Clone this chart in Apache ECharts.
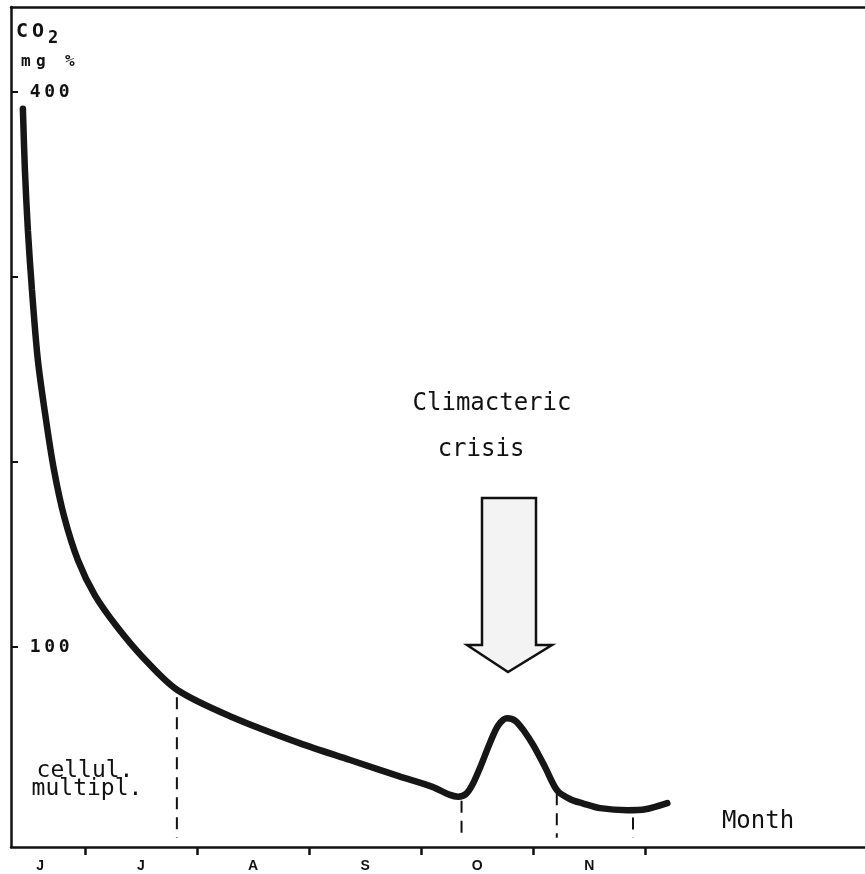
<!DOCTYPE html>
<html>
<head>
<meta charset="utf-8">
<script src="https://cdn.jsdelivr.net/npm/echarts@6/dist/echarts.min.js"></script>
<style>html,body{margin:0;padding:0;background:#fff;}#c{width:865px;height:874px;}</style>
</head>
<body>
<div id="c"></div>
<script>
// Month index: 1 = start of July, 2 = August ... (0 = start of June)
var curveX = [0.446, 0.464, 0.491, 0.527, 0.580, 0.652, 0.723, 0.8125, 0.9375, 1.089, 1.286, 1.509, 1.821, 2.321, 2.92, 3.366, 3.8125, 4.10, 4.25, 4.33, 4.402, 4.464, 4.527, 4.616, 4.6875, 4.768, 4.84, 4.92, 5.0, 5.107, 5.214, 5.33, 5.446, 5.598, 5.839, 6.0, 6.196];
var curveY = [391, 358, 325, 293, 255, 223, 196, 171, 147, 128, 111, 95, 77, 62, 48, 39, 30, 24.5, 20.3, 19.2, 20.8, 26.5, 35.1, 48.6, 57.8, 61.6, 60.2, 54.5, 47.0, 35.0, 22.5, 17.8, 15.5, 13.0, 11.9, 12.4, 15.7];
var dividerX = [1.82, 4.36, 5.21, 5.89];
var dividerTop = [73, 17, 21, 8];
var dividerBottom = -3;
var monthLabels = ['J', 'J', 'A', 'S', 'O', 'N'];
var monthLabelPos = [0.6, 1.5, 2.5, 3.5, 4.5, 5.5];
var monthTicks = [1, 2, 3, 4, 5, 6];
var yTicks = [100, 200, 300, 400];
var yLabelValues = [100, 400];

var chart = echarts.init(document.getElementById('c'), null, {renderer: 'canvas'});
var mono = '"DejaVu Sans Mono", "Liberation Mono", monospace';

function spaced(str, style) {
  return str.split('').map(function (ch) { return '{' + style + '|' + ch + '}'; }).join('');
}

var series = [{
  type: 'line',
  data: curveX.map(function (x, i) { return [x, curveY[i]]; }),
  smooth: 0.3,
  symbol: 'none',
  lineStyle: {color: '#161616', width: 6.5, cap: 'round'},
  z: 5
}];
dividerX.forEach(function (x, i) {
  series.push({
    type: 'line',
    data: [[x, dividerTop[i]], [x, dividerBottom]],
    symbol: 'none',
    lineStyle: {color: '#111', width: 2, type: [12, 8]},
    z: 4
  });
});

chart.setOption({
  animation: false,
  backgroundColor: '#fff',
  grid: {left: 11, right: 0, top: 7, bottom: 27},
  xAxis: [{
    type: 'value', min: 0.34, max: 7.96, position: 'bottom',
    splitLine: {show: false},
    axisLine: {show: true, onZero: false, lineStyle: {color: '#111', width: 2.5}},
    axisTick: {show: true, customValues: monthTicks, length: 8, lineStyle: {color: '#111', width: 2.5}},
    axisLabel: {
      show: true, customValues: monthLabelPos, margin: 12,
      color: '#111', fontSize: 14, fontWeight: 'bold', fontFamily: 'Liberation Sans, Arial, sans-serif',
      formatter: function (v) {
        for (var i = 0; i < monthLabelPos.length; i++) {
          if (Math.abs(monthLabelPos[i] - v) < 1e-6) return monthLabels[i];
        }
        return '';
      }
    }
  }, {
    type: 'value', min: 0.34, max: 7.96, position: 'top',
    splitLine: {show: false},
    axisLine: {show: true, onZero: false, lineStyle: {color: '#111', width: 2.5}},
    axisTick: {show: false}, axisLabel: {show: false}
  }],
  yAxis: {
    type: 'value', min: -8, max: 446,
    splitLine: {show: false},
    axisLine: {show: true, onZero: false, lineStyle: {color: '#111', width: 2.5}},
    axisTick: {show: true, inside: true, customValues: yTicks, length: 7, lineStyle: {color: '#111', width: 2}},
    axisLabel: {
      show: true, inside: true, customValues: yLabelValues, margin: 17,
      color: '#111', fontFamily: mono,
      formatter: function (v) { return spaced(String(v), 'd'); },
      rich: {d: {fontSize: 18, fontWeight: 'bold', fontFamily: mono, color: '#111', width: 14.5, align: 'center'}}
    }
  },
  series: series,
  graphic: [
    {type: 'text', left: 16, top: 22, style: {
      text: spaced('CO', 'a') + '{b|2}', fill: '#111',
      rich: {a: {fontSize: 20, fontWeight: 'bold', fontFamily: mono, fill: '#111', width: 16, align: 'center'},
             b: {fontSize: 17, fontWeight: 'bold', fontFamily: mono, fill: '#111', padding: [13, 0, 0, 2]}}
    }},
    {type: 'text', left: 21, top: 54, style: {
      text: '{m|m}{m|g}{s| }{m|%}', fill: '#111',
      rich: {m: {fontSize: 16, fontWeight: 'bold', fontFamily: mono, fill: '#111', width: 15, align: 'center'},
             s: {fontSize: 16, width: 14}}
    }},
    {type: 'text', x: 492, y: 404, style: {text: 'Climacteric', fontSize: 24, fontFamily: mono, fill: '#111', align: 'center', verticalAlign: 'middle'}},
    {type: 'text', x: 481, y: 450, style: {text: 'crisis', fontSize: 24, fontFamily: mono, fill: '#111', align: 'center', verticalAlign: 'middle'}},
    {type: 'text', x: 85, y: 771, style: {text: 'cellul.', fontSize: 23, fontFamily: mono, fill: '#111', align: 'center', verticalAlign: 'middle'}},
    {type: 'text', x: 87, y: 789, style: {text: 'multipl.', fontSize: 23, fontFamily: mono, fill: '#111', align: 'center', verticalAlign: 'middle'}},
    {type: 'text', x: 758, y: 822, style: {text: 'Month', fontSize: 24, fontFamily: mono, fill: '#111', align: 'center', verticalAlign: 'middle'}},
    {type: 'polygon', shape: {points: [[482, 498], [536, 498], [536, 645], [552, 645], [508, 672], [467, 645], [482, 645]]},
      style: {fill: '#f3f3f3', stroke: '#111', lineWidth: 2.5, lineJoin: 'miter'}}
  ]
});
</script>
</body>
</html>
